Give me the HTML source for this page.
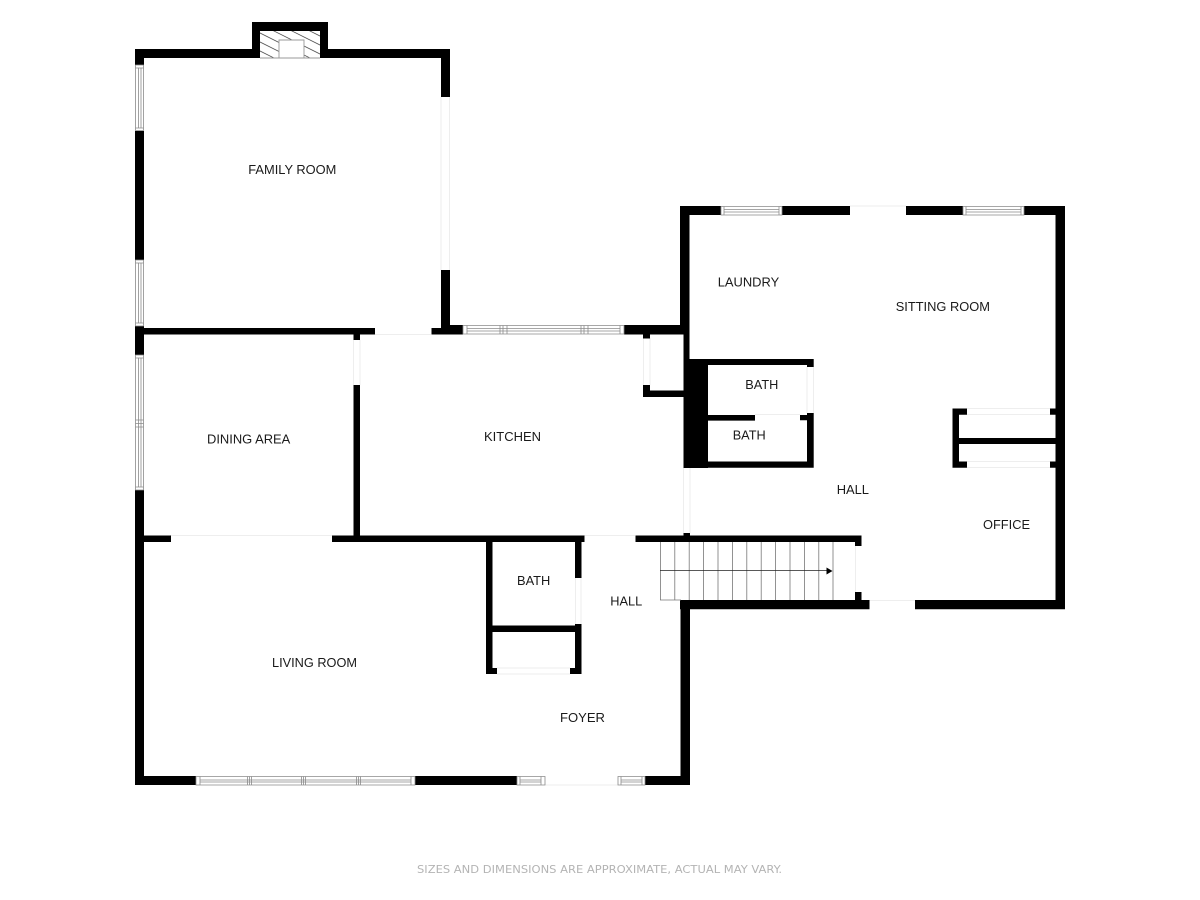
<!DOCTYPE html>
<html>
<head>
<meta charset="utf-8">
<title>Floor plan</title>
<style>
html,body{margin:0;padding:0;background:#fff;width:1200px;height:900px;overflow:hidden}
svg{display:block}
text{font-family:"Liberation Sans",sans-serif;font-size:13px;fill:#1a1a1a}
.d{font-family:"DejaVu Sans",sans-serif;font-size:11px;fill:#b4b4b4}
</style>
</head>
<body>
<svg width="1200" height="900" viewBox="0 0 1200 900" xmlns="http://www.w3.org/2000/svg">
<defs>
<clipPath id="fp"><path d="M260 31H320V58H304V40H279V58H260Z"/></clipPath>
</defs>
<rect width="1200" height="900" fill="#fff"/>

<path fill="none" stroke="#eeeeee" stroke-width="1" d="M441 97V270M449.5 97V270M375 334.5H431M353.5 340V385M360 340V385M170 535.5H332M584 535.5H635M643.5 338V385M650 338V385M683.5 468V533M690 468V533M807 367V413M813.5 367V413M755 414.5H800M850 206H906M967 408.5H1050M967 414.5H1050M967 461.5H1050M967 467.5H1050M575.5 578V624M581 578V624M497 668H570M497 674H570M855.5 546V592M869 600.5H915M545 785H618"/>

<path fill="#000" d="M135 49H260V58H135ZM320 49H450V58H320ZM252 22H328V31H252ZM252 22H260V58H252ZM320 22H328V58H320ZM135 49H144V65H135ZM135 131H144V260H135ZM135 326H144V355H135ZM135 490H144V785H135ZM441 49H450V97H441ZM441 270H450V334H441ZM144 328H375V334.5H144ZM431.5 328H463V334.5H431.5ZM450 325H463V334.5H450ZM624 325H684V334.5H624ZM643 334H650V338.5H643ZM643 385H650V397H643ZM643 390.5H684V397H643ZM353.5 334H360V340H353.5ZM353.5 385H360V540H353.5ZM144 535.5H171V542H144ZM332 535.5H584.5V542H332ZM635.5 535.5H861.5V542H635.5ZM683.5 533H690V536H683.5ZM486 542H492.5V674H486ZM575 542H581.5V578H575ZM575 624H581.5V674H575ZM492 625.5H575V632H492ZM486 668H497V674H486ZM570 668H581.5V674H570ZM855 542H861.5V546H855ZM855 592H861.5V600H855ZM680 600H869.5V609.3H680ZM915 600H1065V609.3H915ZM680.5 600H690V785H680.5ZM135 776H196V785H135ZM415 776H517V785H415ZM645 776H690V785H645ZM680 206H721V215H680ZM782 206H850V215H782ZM906 206H963V215H906ZM1024 206H1065V215H1024ZM680 206H689.5V334H680ZM683.5 325H689.5V468H683.5ZM683.5 359H708V468H683.5ZM689 359H813.7V365H689ZM807 359H813.7V367H807ZM708 415H755V420.6H708ZM800 415H807V420.3H800ZM807 413H813.7V467.7H807ZM683.5 461.5H813.7V467.7H683.5ZM952.5 408.5H959V467.7H952.5ZM952.5 408.5H967V414.7H952.5ZM952.5 461.5H967V467.7H952.5ZM959 438H1055.5V444H959ZM1050 408.5H1056V414.7H1050ZM1050 461.5H1056V467.7H1050ZM1055.5 206H1065V609.3H1055.5Z"/>

<path clip-path="url(#fp)" fill="none" stroke="#555" stroke-width=".8" d="M230 0L350 60M230 9L350 69M230 18L350 78M230 27L350 87M230 36L350 96M230 45L350 105M230 -9L350 51M230 -18L350 42M230 -27L350 33M230 -36L350 24M230 -45L350 15"/>
<path fill="none" stroke="#999" stroke-width=".9" d="M279 58V40H304V58M260 58H320"/>

<path fill="#fff" d="M135.5 65h8v65.5h-8ZM135.5 260h8v66h-8ZM135.5 355h8v135h-8ZM463 325.5h161v8.5h-161ZM721 206.5h61v8.5h-61ZM963 206.5h61v8.5h-61ZM196 776.5h219v8.5h-219ZM517 776.5h28v8.5h-28ZM618 776.5h27v8.5h-27Z"/>
<path fill="none" stroke="#8a8a8a" stroke-width=".8" d="M135.5 65h8v65.5h-8ZM138.5 68V128M141 68V128M135.5 68H143.5M135.5 128H143.5M135.5 260h8v66h-8ZM138.5 263V323M141 263V323M135.5 263H143.5M135.5 323H143.5M135.5 355h8v135h-8ZM138.5 358V487M141 358V487M135.5 358H143.5M135.5 420H143.5M135.5 423.5H143.5M135.5 427H143.5M135.5 487H143.5M463 325.5h161v8.5h-161ZM467 328.5H620M467 331H620M467 325.5V334M500 325.5V334M503 325.5V334M507 325.5V334M581 325.5V334M584 325.5V334M588 325.5V334M620 325.5V334M721 206.5h61v8.5h-61ZM724 209.5H779M724 212H779M724 206.5V215M779 206.5V215M963 206.5h61v8.5h-61ZM966 209.5H1021M966 212H1021M966 206.5V215M1021 206.5V215M196 776.5h219v8.5h-219ZM200 780H411M200 782H411M200 776.5V785M247.5 776.5V785M249.5 776.5V785M251.5 776.5V785M301.5 776.5V785M303.5 776.5V785M305.5 776.5V785M356.5 776.5V785M358.5 776.5V785M360.5 776.5V785M411 776.5V785M517 776.5h28v8.5h-28ZM520 780H541M520 782H541M520 776.5V785M541 776.5V785M618 776.5h27v8.5h-27ZM621 780H642M621 782H642M621 776.5V785M642 776.5V785"/>

<path fill="none" stroke="#777" stroke-width=".8" d="M660.5 542V600M674.8 542V600M689.2 542V600M703.6 542V600M718 542V600M732.4 542V600M746.8 542V600M761.2 542V600M775.6 542V600M790 542V600M804.4 542V600M818.8 542V600M833 542V600M660 600H681"/>
<path fill="none" stroke="#222" stroke-width=".8" d="M660 570.5H828"/>
<path fill="#000" d="M826.5 567.5L832.5 571L826.5 574.5Z"/>

<text x="248.3" y="174" textLength="88" lengthAdjust="spacingAndGlyphs">FAMILY ROOM</text>
<text x="717.7" y="286.7" textLength="61.5" lengthAdjust="spacingAndGlyphs">LAUNDRY</text>
<text x="895.7" y="311" textLength="94.3" lengthAdjust="spacingAndGlyphs">SITTING ROOM</text>
<text x="745.3" y="389" textLength="33" lengthAdjust="spacingAndGlyphs">BATH</text>
<text x="732.7" y="439.3" textLength="33" lengthAdjust="spacingAndGlyphs">BATH</text>
<text x="207" y="443.3" textLength="83.3" lengthAdjust="spacingAndGlyphs">DINING AREA</text>
<text x="484" y="441" textLength="57" lengthAdjust="spacingAndGlyphs">KITCHEN</text>
<text x="836.7" y="494" textLength="32.3" lengthAdjust="spacingAndGlyphs">HALL</text>
<text x="983" y="529" textLength="47" lengthAdjust="spacingAndGlyphs">OFFICE</text>
<text x="517" y="585" textLength="33.3" lengthAdjust="spacingAndGlyphs">BATH</text>
<text x="610.3" y="605.7" textLength="32" lengthAdjust="spacingAndGlyphs">HALL</text>
<text x="272" y="667" textLength="85" lengthAdjust="spacingAndGlyphs">LIVING ROOM</text>
<text x="560" y="722" textLength="45" lengthAdjust="spacingAndGlyphs">FOYER</text>
<text class="d" x="417" y="873" textLength="365" lengthAdjust="spacingAndGlyphs">SIZES AND DIMENSIONS ARE APPROXIMATE, ACTUAL MAY VARY.</text>
</svg>
</body>
</html>
